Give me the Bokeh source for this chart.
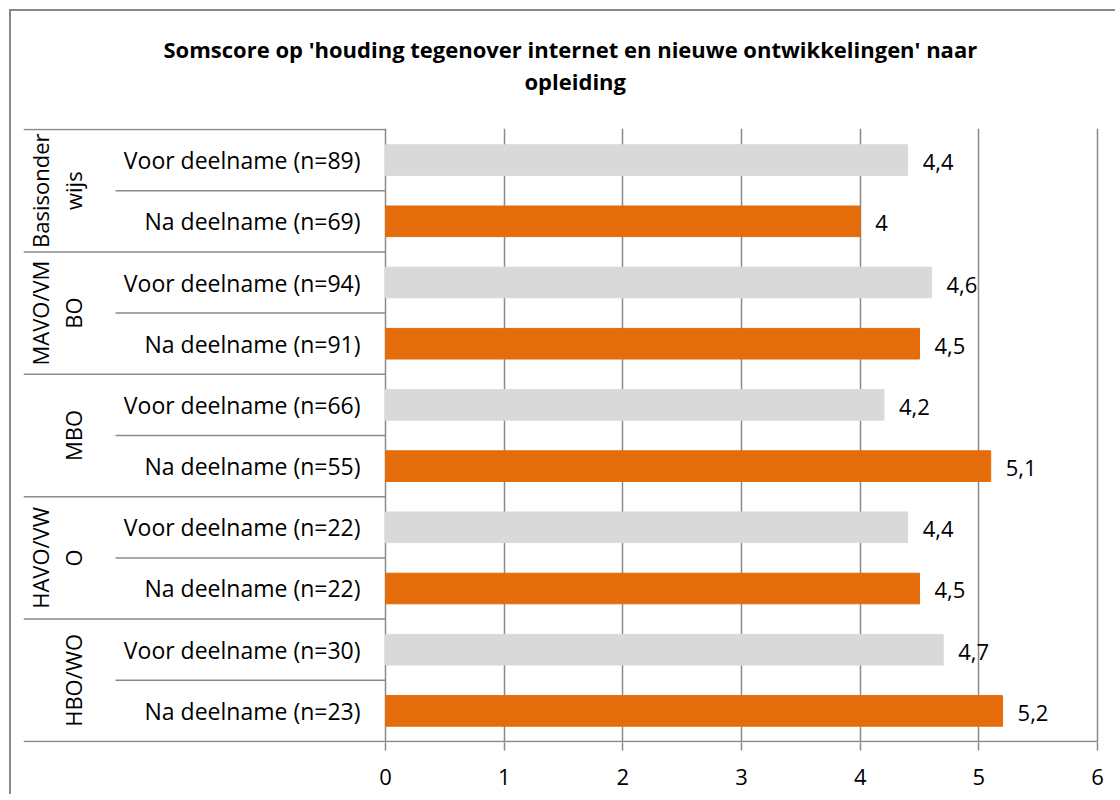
from bokeh.plotting import figure
from bokeh.models import Range1d, FixedTicker, Title
from bokeh.core.properties import value
from bokeh.embed import file_html
from bokeh.resources import INLINE
import math

# ---- data ----
groups = ["Basisonder\nwijs", "MAVO/VM\nBO", "MBO", "HAVO/VW\nO", "HBO/WO"]
voor_labels = ["Voor deelname (n=89)", "Voor deelname (n=94)", "Voor deelname (n=66)",
               "Voor deelname (n=22)", "Voor deelname (n=30)"]
na_labels = ["Na deelname (n=69)", "Na deelname (n=91)", "Na deelname (n=55)",
             "Na deelname (n=22)", "Na deelname (n=23)"]
voor_values = [4.4, 4.6, 4.2, 4.4, 4.7]
na_values = [4.0, 4.5, 5.1, 4.5, 5.2]
x_ticks = [0, 1, 2, 3, 4, 5, 6]
title_lines = ["Somscore op 'houding tegenover internet en nieuwe ontwikkelingen' naar",
               "opleiding"]

FONT = "Open Sans"
FS = "23px"
GRAY = "#d9d9d9"
ORANGE = "#e46c0a"
LINE = "#8a8a8a"

def fmt(v):
    s = ("%.1f" % v)
    if s.endswith(".0"):
        s = s[:-2]
    return s.replace(".", ",")

# layout in pixels
PX_PER_UNIT = 118.67
PX_PER_ROW = 61.1
frame_left_px = 12      # canvas px
zero_px = 374           # canvas px of x=0
frame_right_px = 1090
W, H = 1106, 785
x_start = -(zero_px - frame_left_px) / PX_PER_UNIT
x_end = x_start + (frame_right_px - frame_left_px) / PX_PER_UNIT
n_rows = 2 * len(groups)
pad = 1 / PX_PER_ROW

p = figure(width=W, height=H, output_backend="svg", toolbar_location=None,
           x_range=Range1d(x_start, x_end), y_range=Range1d(n_rows + pad, -pad),
           y_axis_location=None, min_border_left=frame_left_px,
           min_border_right=W - frame_right_px, min_border_top=117, min_border_bottom=54)
p.styles = {"border-left": "2px solid #888888", "border-top": "2px solid #888888",
            "margin-left": "9px", "margin-top": "9px"}
p.outline_line_color = None
p.background_fill_color = "white"
p.border_fill_color = "white"

# title: two centred lines; first-added extra title sits closest to the plot
p.title.text = title_lines[0]
p.title.align = "left"
p.title.offset = 140
p.title.text_font = FONT
p.title.text_font_size = "22px"
p.title.text_font_style = "bold"
p.title.text_color = "black"
p.title.standoff = 0
spacer = Title(text=" ", text_font_size="1px", standoff=30)
p.add_layout(spacer, "above")
t2 = Title(text=title_lines[1], align="left", offset=501, text_font=FONT,
           text_font_size="22px", text_font_style="bold", text_color="black",
           standoff=0)
p.add_layout(t2, "above")

# x axis
ax = p.xaxis[0]
ax.ticker = FixedTicker(ticks=x_ticks)
ax.axis_line_color = None
ax.major_tick_in = 0
ax.major_tick_out = 8
ax.major_tick_line_color = LINE
ax.major_tick_line_width = 1.5
ax.minor_tick_line_color = None
ax.major_label_text_font = FONT
ax.major_label_text_font_size = "22px"
ax.major_label_text_color = "black"
ax.major_label_standoff = 18

p.xgrid.grid_line_color = LINE
p.xgrid.grid_line_width = 1.5
p.ygrid.visible = False

# rows
ys_voor = [2 * i + 0.5 for i in range(len(groups))]
ys_na = [2 * i + 1.5 for i in range(len(groups))]

p.hbar(y=ys_voor, right=voor_values, left=0, height=0.5, color=GRAY)
p.hbar(y=ys_na, right=na_values, left=0, height=0.5, color=ORANGE)

# value labels
for vals, ys in ((voor_values, ys_voor), (na_values, ys_na)):
    p.text(x=vals, y=ys, text=[fmt(v) for v in vals], x_offset=15, y_offset=2,
           text_font=value(FONT), text_font_size="22px", text_baseline="middle",
           text_color="black")

# category labels
for labs, ys in ((voor_labels, ys_voor), (na_labels, ys_na)):
    p.text(x=[0] * len(labs), y=ys, text=labs, x_offset=-25, y_offset=0,
           text_font=value(FONT), text_font_size=FS, text_align="right",
           text_baseline="middle", text_color="black")

# group labels (rotated)
for i, g in enumerate(groups):
    lines = g.split("\n")
    yc = 2 * i + 1
    offsets = [-346, -313] if len(lines) == 2 else [-313]
    for ln, off in zip(lines, offsets):
        p.text(x=[0], y=[yc], text=[ln], x_offset=off, angle=math.pi / 2,
               text_font=value(FONT), text_font_size="22px", text_align="center",
               text_baseline="middle", text_color="black")

# separators
sub_left = -(zero_px - 115 + 11) / PX_PER_UNIT
grp_y = [2 * i for i in range(len(groups))]
sub_y = [2 * i + 1 for i in range(len(groups))]
p.segment(x0=[x_start] * len(grp_y), x1=[0] * len(grp_y), y0=grp_y, y1=grp_y,
          line_color=LINE, line_width=1.5)
p.segment(x0=[sub_left] * len(sub_y), x1=[0] * len(sub_y), y0=sub_y, y1=sub_y,
          line_color=LINE, line_width=1.5)
p.segment(x0=[x_start], x1=[x_ticks[-1]], y0=[n_rows], y1=[n_rows],
          line_color=LINE, line_width=1.5)

open("out.html", "w").write(file_html(p, INLINE))
